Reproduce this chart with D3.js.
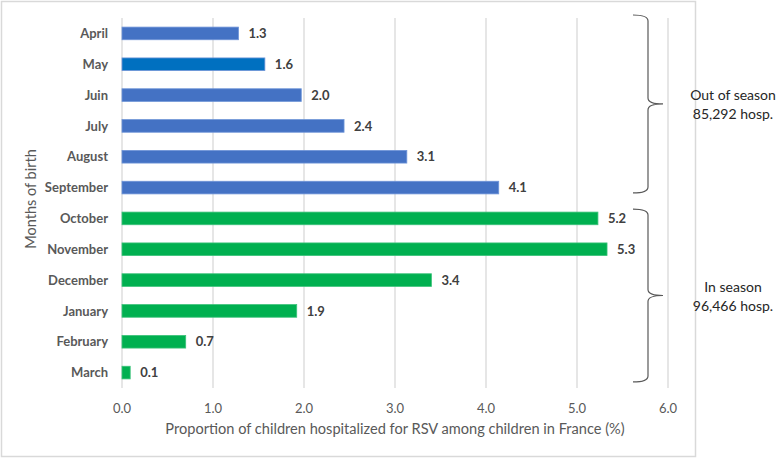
<!DOCTYPE html>
<html><head><meta charset="utf-8">
<script src="https://cdn.jsdelivr.net/npm/d3@7/dist/d3.min.js"></script>
<style>body{margin:0;background:#fff;} svg{display:block;font-family:Lato,"Open Sans",sans-serif;}</style>
</head><body>
<svg id="c" width="778" height="459"></svg>
<script>
const months = ["April","May","Juin","July","August","September","October","November","December","January","February","March"];
const values = [1.28,1.57,1.97,2.44,3.13,4.14,5.23,5.33,3.40,1.92,0.70,0.09];
const valueLabels = ["1.3","1.6","2.0","2.4","3.1","4.1","5.2","5.3","3.4","1.9","0.7","0.1"];
const season = ["out","out","out","out","out","out","in","in","in","in","in","in"];
const xTicks = [0,1,2,3,4,5,6];
const groups = [
  {name:"Out of season", count:"85,292 hosp.", first:"April", last:"September"},
  {name:"In season", count:"96,466 hosp.", first:"October", last:"March"}
];

const svg = d3.select("#c");
const m = {left:122, right:668, top:18, bottom:388};
const x = d3.scaleLinear().domain([0,6]).range([m.left, m.right]);
const y = d3.scaleBand().domain(months).range([m.top, m.bottom]).paddingInner(0.59).paddingOuter(0.295);

// frame
svg.append("rect").attr("x",1.5).attr("y",1.5).attr("width",694).attr("height",455)
  .attr("fill","none").attr("stroke","#d9d9d9").attr("stroke-width",1.5);

// gridlines
svg.append("g").selectAll("line").data(xTicks).join("line")
  .attr("x1",d=>x(d)).attr("x2",d=>x(d)).attr("y1",m.top).attr("y2",m.bottom)
  .attr("stroke","#d9d9d9").attr("stroke-width",1.3);

// x tick labels
svg.append("g").selectAll("text").data(xTicks).join("text")
  .attr("x",d=>x(d)).attr("y",413).attr("text-anchor","middle")
  .attr("font-size",13).attr("fill","#595959").text(d=>d.toFixed(1));

// bars
const colorFor = (d,i)=> d==="May" ? "#0070c0" : (season[i]==="out" ? "#4472c4" : "#00b050");
svg.append("g").selectAll("rect").data(months).join("rect")
  .attr("x",x(0)).attr("y",d=>y(d)).attr("height",y.bandwidth())
  .attr("width",(d,i)=>x(values[i])-x(0))
  .attr("fill",(d,i)=>colorFor(d,i))
  .attr("stroke",(d,i)=> season[i]==="out" ? "#6f95d8" : "#3cc27a").attr("stroke-width",0.8);

// value labels
svg.append("g").selectAll("text").data(months).join("text")
  .attr("x",(d,i)=>x(values[i])+10).attr("y",d=>y(d)+y.bandwidth()/2).attr("dy","0.36em")
  .attr("font-size",13).attr("font-weight","bold").attr("fill","#404040")
  .text((d,i)=>valueLabels[i]);

// category labels
svg.append("g").selectAll("text").data(months).join("text")
  .attr("x",108).attr("y",d=>y(d)+y.bandwidth()/2).attr("dy","0.36em")
  .attr("text-anchor","end").attr("font-size",13).attr("font-weight","bold").attr("fill","#595959")
  .text(d=>d);

// axis titles
svg.append("text").attr("x",395).attr("y",434).attr("text-anchor","middle")
  .attr("font-size",14.6).attr("fill","#595959")
  .text("Proportion of children hospitalized for RSV among children in France (%)");
svg.append("text").attr("transform","translate(36,199) rotate(-90)").attr("text-anchor","middle")
  .attr("font-size",14.5).attr("fill","#595959").text("Months of birth");

// braces
groups.forEach((g,gi)=>{
  const yTop = gi===0 ? 15 : y(g.first) - 3;
  const yBot = gi===0 ? y(g.last) + y.bandwidth() - 1 : y(g.last) + y.bandwidth() + 3;
  const mid = (yTop + yBot)/2;
  const x0 = 633, x1 = 648, x2 = 663;
  const r = 6;
  const p = `M${x0},${yTop} Q${x1},${yTop} ${x1},${yTop+r} L${x1},${mid-r} Q${x1},${mid} ${x2},${mid} Q${x1},${mid} ${x1},${mid+r} L${x1},${yBot-r} Q${x1},${yBot} ${x0},${yBot}`;
  svg.append("path").attr("d",p).attr("fill","none").attr("stroke","#595959").attr("stroke-width",1.2);
  svg.append("text").attr("x",733).attr("y",mid-4).attr("text-anchor","middle")
    .attr("font-size",14).attr("fill","#262626").text(g.name);
  svg.append("text").attr("x",733).attr("y",mid+15).attr("text-anchor","middle")
    .attr("font-size",14).attr("fill","#262626").text(g.count);
});
</script>
</body></html>
